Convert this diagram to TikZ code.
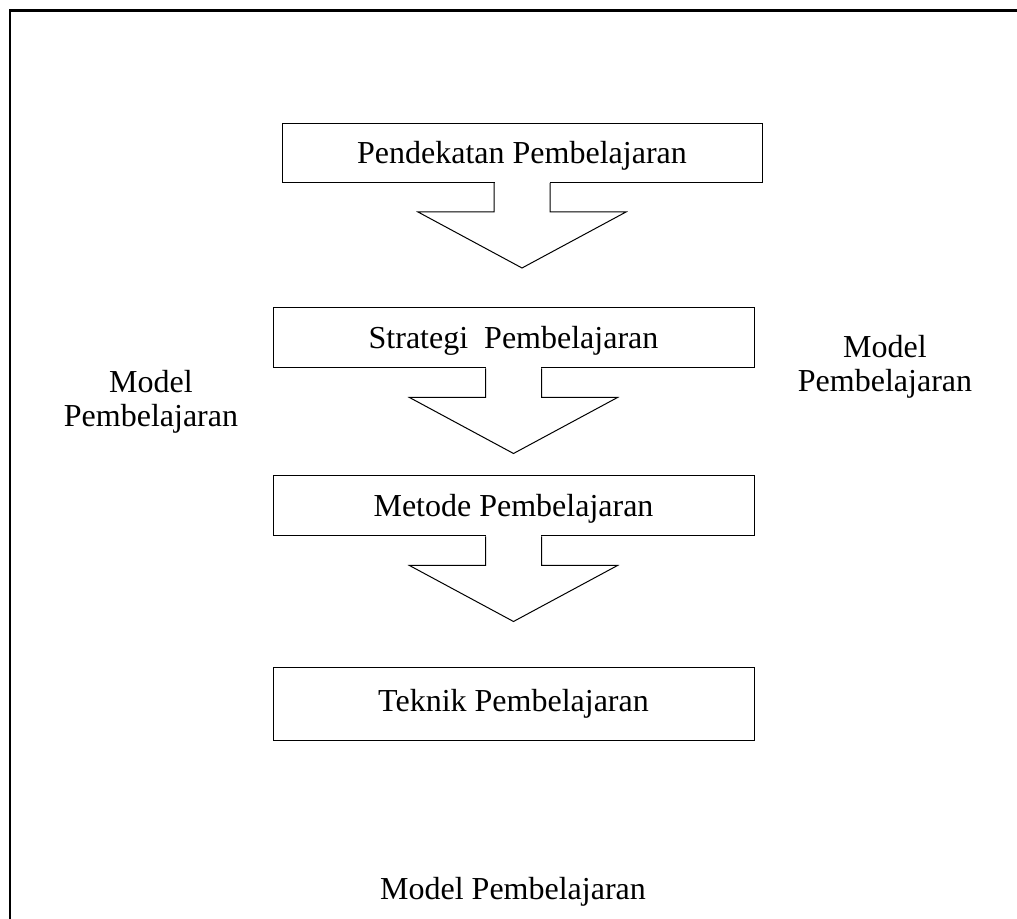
\documentclass[tikz,border=0pt]{standalone}
\usepackage{fontspec}
\setmainfont{Liberation Serif}
\usepackage{tikz}
\tikzstyle{box} = [rectangle, minimum width=481pt, minimum height=60pt, inner sep=0pt, text centered, text depth=1pt, draw=black, line width=1pt]
\tikzstyle{lbl} = [align=center, inner sep=0pt]

\begin{document}
\begin{tikzpicture}[x=1pt, y=1pt, node distance=185pt, font=\fontsize{32}{34}\selectfont]
		\useasboundingbox (0,0) rectangle (1017,918);
		\begin{scope}
		\clip (0,0) rectangle (1017,918);
		\draw[line width=2.2pt] (10,-20) rectangle (1040,907.5);
		\end{scope}
		\node[box,minimum width=480pt,minimum height=59pt](b1) at (522,765){Pendekatan Pembelajaran};
		\node[box,below of=b1,xshift=-8.5pt](b2){Strategi \ Pembelajaran};
		\node[box,below of=b2,yshift=17pt](b3){Metode Pembelajaran};
		\node[box,below of=b3,yshift=-13pt,minimum height=73pt,text depth=7pt](b4){Teknik Pembelajaran};
		\foreach \n in {b1,b2,b3}{
			\fill[white] ([xshift=-27.5pt,yshift=1pt]\n.south) rectangle ([xshift=27.5pt,yshift=-1pt]\n.south);
			\draw[line width=1pt] ([xshift=-28pt]\n.south) -- ++(0,-29) -- ++(-76,0) -- ++(104,-56) -- ++(104,56) -- ++(-76,0) -- ++(0,29);
		}
		\node[lbl](ml) at (151,516){Model\\Pembelajaran};
		\node[lbl](mr) at (885,551){Model\\Pembelajaran};
		\node[lbl,anchor=base](mb) at (513,18){Model Pembelajaran};
		\end{tikzpicture}
\end{document}
